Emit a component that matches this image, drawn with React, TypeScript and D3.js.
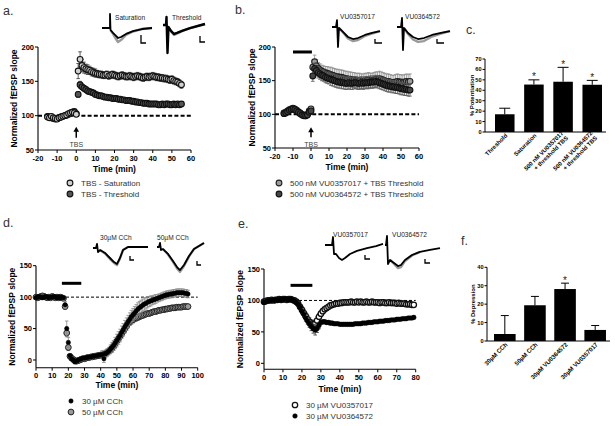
import React from "react";
import * as d3 from "d3";

const FONT = "'Liberation Sans', Arial, Helvetica, sans-serif";

// ================= Panel a =================
const aTimes = d3.range(-15, 56);
const aSatValues = [
  98, 97, 99, 97, 96, 95, 97, 98, 99, 100, 101, 103, 104, 105, 104, 102,
  165, 182, 173, 170, 168, 167, 166, 164, 163, 162,
  161, 160, 160, 159, 159, 160, 158, 159, 160, 159,
  158, 157, 158, 159, 158, 157, 157, 158, 157, 156,
  157, 158, 157, 156, 155, 156, 157, 156, 157, 158,
  157, 156, 156, 155, 155, 154, 154, 153, 152, 153,
  151, 150, 149, 147, 145,
];
const aSatErr = [
  3, 3, 3, 3, 3, 3, 3, 3, 3, 3, 3, 3, 3, 3, 3, 3,
  11, 11, 9, 8, 7, 7, 6, 6, 6, 6,
  5, 5, 5, 5, 5, 5, 5, 5, 5, 5,
  5, 5, 5, 5, 5, 5, 5, 5, 5, 5,
  5, 5, 5, 5, 5, 5, 5, 5, 5, 5,
  5, 5, 5, 5, 5, 5, 5, 5, 5, 5,
  5, 5, 5, 5, 5,
];
const aThrValues = [
  99, 98, 97, 96, 95, 96, 97, 98, 99, 100, 101, 102, 104, 105, 106, 103,
  131, 145, 142, 140, 138, 136, 135, 134, 133, 131,
  130, 129, 129, 128, 127, 127, 126, 126, 125, 125,
  125, 124, 124, 123, 123, 122, 122, 122, 121, 121,
  120, 120, 119, 119, 118, 118, 118, 117, 117, 117,
  117, 117, 116, 116, 117, 116, 117, 117, 116, 116,
  117, 116, 117, 116, 117,
];
const aThrErr = [
  3, 3, 3, 3, 3, 3, 3, 3, 3, 3, 3, 3, 3, 3, 3, 3,
  4, 5, 4, 4, 4, 4, 4, 4, 3, 3,
  3, 3, 3, 3, 3, 3, 3, 3, 3, 3,
  3, 3, 3, 3, 3, 3, 3, 3, 3, 3,
  3, 3, 3, 3, 3, 3, 3, 3, 3, 3,
  3, 3, 3, 3, 3, 3, 3, 3, 3, 3,
  3, 3, 3, 3, 3,
];

// ================= Panel b =================
const bTimes = d3.range(-15, 56);
const bVU17Values = [
  102, 103, 105, 107, 108, 109, 108, 106, 104, 102, 100, 99, 98, 100, 105, 108,
  170, 178, 172, 168, 166, 164, 163, 162, 161, 160,
  159, 158, 157, 156, 156, 155, 155, 154, 153, 153,
  152, 152, 151, 151, 150, 150, 150, 149, 149, 150,
  150, 151, 150, 150, 151, 152, 152, 153, 152, 151,
  150, 149, 149, 148, 147, 147, 148, 149, 148, 148,
  147, 148, 149, 148, 149,
];
const bVU17Err = [
  3, 3, 3, 3, 3, 3, 3, 3, 3, 3, 3, 3, 3, 3, 3, 3,
  10, 10, 9, 9, 9, 9, 9, 9, 10, 10,
  11, 11, 11, 11, 11, 11, 11, 11, 11, 11,
  11, 11, 11, 11, 11, 11, 11, 11, 11, 11,
  11, 11, 11, 11, 11, 11, 11, 11, 11, 11,
  11, 11, 11, 11, 11, 11, 11, 11, 11, 11,
  11, 11, 11, 11, 11,
];
const bVU64Values = [
  101, 102, 104, 106, 107, 108, 107, 105, 103, 101, 99, 98, 98, 99, 103, 105,
  157, 168, 165, 162, 160, 158, 157, 155, 154, 153,
  152, 151, 150, 149, 148, 148, 147, 147, 146, 146,
  147, 146, 146, 147, 147, 146, 146, 147, 146, 147,
  147, 147, 148, 148, 148, 149, 148, 147, 146, 145,
  144, 143, 142, 142, 141, 141, 140, 140, 139, 138,
  138, 137, 137, 136, 136,
];
const bVU64Err = [
  3, 3, 3, 3, 3, 3, 3, 3, 3, 3, 3, 3, 3, 3, 3, 3,
  8, 8, 8, 8, 8, 8, 8, 8, 8, 8,
  9, 9, 9, 9, 9, 9, 9, 9, 9, 9,
  9, 9, 9, 9, 9, 9, 9, 9, 9, 9,
  9, 9, 9, 9, 9, 9, 9, 9, 9, 9,
  9, 9, 9, 9, 9, 9, 9, 9, 9, 9,
  9, 9, 9, 9, 9,
];

// ================= Panel c =================
const cCategories = [
  ["Threshold"],
  ["Saturation"],
  ["500 nM VU0357017", "+ threshold TBS"],
  ["500 nM VU0364572", "+ threshold TBS"],
];
const cValues = [17, 45.5, 48.2, 45.3];
const cErrors = [5.8, 4.5, 13.8, 4.2];
const cStars = ["", "*", "*", "*"];
const cTicks = [0, 10, 20, 30, 40, 50, 60, 70];

// ================= Panel d =================
const dTimes = d3.range(0, 95);
const d30Values = [
  99, 100, 101, 100, 99, 100, 101, 100, 99, 100,
  100, 101, 100, 99, 100, 99, 100, 99, 88, 50,
  28, 7, 2, 0, -3, -2, 0, 1, 2, 3,
  3, 4, 4, 5, 5, 6, 6, 7, 7, 8,
  8, 9, 2, 10, 12, 14, 17, 20, 23, 27,
  31, 35, 39, 44, 48, 53, 57, 61, 65, 69,
  72, 75, 78, 81, 83, 85, 87, 89, 90, 92,
  93, 94, 95, 96, 97, 98, 99, 100, 101, 102,
  103, 104, 104, 105, 105, 106, 106, 107, 107, 107,
  107, 107, 106, 106, 105,
];
const d30Err = [
  2, 2, 2, 2, 2, 2, 2, 2, 2, 2,
  2, 2, 2, 2, 2, 2, 2, 3, 5, 12,
  8, 3, 3, 3, 3, 3, 3, 3, 3, 3,
  3, 3, 3, 3, 3, 3, 3, 3, 3, 3,
  3, 6, 6, 6, 6, 6, 7, 8, 8, 9,
  10, 10, 10, 10, 10, 10, 10, 10, 10, 10,
  10, 10, 10, 10, 10, 10, 10, 10, 9, 9,
  8, 8, 7, 7, 7, 6, 6, 6, 6, 6,
  6, 6, 6, 6, 6, 6, 6, 6, 6, 6,
  6, 6, 6, 6, 6,
];
const d50Values = [
  100, 99, 100, 101, 102, 101, 100, 99, 100, 99,
  101, 100, 99, 100, 99, 100, 99, 98, 85, 43,
  20, 6, 3, 1, -1, -2, -1, 0, 1, 2,
  2, 3, 4, 4, 5, 5, 6, 6, 7, 7,
  8, 8, 9, 10, 12, 14, 16, 19, 22, 26,
  30, 34, 38, 42, 46, 50, 54, 58, 61, 63,
  64, 66, 67, 68, 69, 70, 71, 72, 73, 74,
  74, 75, 76, 77, 77, 78, 79, 79, 80, 80,
  81, 81, 82, 82, 83, 83, 83, 84, 84, 84,
  84, 85, 85, 85, 85,
];
const d50Err = [
  2, 2, 2, 2, 2, 2, 2, 2, 2, 2,
  2, 2, 2, 2, 2, 2, 2, 2, 4, 6,
  5, 3, 3, 3, 3, 3, 3, 3, 3, 3,
  3, 3, 3, 3, 3, 3, 3, 3, 3, 3,
  3, 3, 3, 3, 3, 4, 5, 6, 6, 6,
  6, 6, 6, 6, 6, 6, 6, 6, 6, 6,
  5, 5, 5, 5, 4, 4, 4, 4, 3, 3,
  3, 3, 3, 3, 3, 3, 3, 3, 3, 3,
  3, 3, 3, 3, 3, 3, 3, 3, 3, 3,
  3, 3, 3, 3, 3,
];

// ================= Panel e =================
const eTimes = d3.range(0, 80);
const e17Values = [
  98, 99, 100, 100, 101, 100, 101, 101, 102, 101,
  102, 102, 101, 102, 102, 101, 100, 98, 95, 90,
  85, 80, 75, 70, 66, 63, 62, 63, 68, 74,
  79, 83, 86, 88, 90, 92, 93, 94, 95, 95,
  96, 96, 97, 97, 97, 97, 98, 97, 97, 98,
  97, 98, 97, 97, 98, 97, 97, 98, 97, 97,
  97, 96, 97, 97, 96, 96, 97, 96, 96, 96,
  95, 96, 95, 95, 95, 94, 94, 94, 93, 93,
];
const e17Err = [
  2, 2, 2, 2, 2, 2, 2, 2, 2, 2,
  2, 2, 2, 2, 2, 2, 2, 2, 3, 4,
  5, 6, 6, 6, 6, 6, 6, 6, 6, 5,
  4, 4, 3, 3, 3, 3, 2, 2, 2, 2,
  2, 2, 2, 2, 2, 2, 2, 2, 2, 2,
  2, 2, 2, 2, 2, 2, 2, 2, 2, 2,
  2, 2, 2, 2, 2, 2, 2, 2, 2, 2,
  2, 2, 2, 2, 2, 2, 2, 2, 2, 2,
];
const e64Values = [
  97, 98, 99, 100, 100, 101, 100, 101, 101, 102,
  101, 102, 102, 101, 102, 101, 99, 97, 94, 89,
  83, 78, 72, 67, 62, 58, 55, 53, 55, 60,
  65, 66, 66, 65, 65, 64, 64, 63, 63, 63,
  62, 62, 62, 62, 62, 62, 62, 62, 63, 63,
  63, 63, 64, 64, 64, 65, 65, 65, 66, 66,
  66, 67, 67, 67, 68, 68, 68, 69, 69, 69,
  70, 70, 70, 71, 71, 71, 72, 72, 72, 73,
];
const e64Err = [
  2, 2, 2, 2, 2, 2, 2, 2, 2, 2,
  2, 2, 2, 2, 2, 2, 2, 2, 3, 3,
  4, 4, 5, 5, 5, 6, 7, 8, 6, 5,
  3, 3, 3, 3, 3, 3, 2, 2, 2, 2,
  2, 2, 2, 2, 2, 2, 2, 2, 2, 2,
  2, 2, 2, 2, 2, 2, 2, 2, 2, 2,
  2, 2, 2, 2, 2, 2, 2, 2, 2, 2,
  2, 2, 2, 2, 2, 2, 2, 2, 2, 2,
];

// ================= Panel f =================
const fCategories = [["30µM CCh"], ["50µM CCh"], ["30µM VU0364572"], ["30µM VU0357017"]];
const fValues = [3.8, 19.4, 28.2, 6.0];
const fErrors = [10.0, 4.8, 3.2, 2.4];
const fStars = ["", "", "*", ""];
const fTicks = [0, 10, 20, 30, 40];

// ================= Inset traces (ms, mV) =================
const aSatBlack = [[0, 0], [3.2, 0], [3.2, 0.97], [3.4, -0.14], [4.4, -0.34], [5.6, -0.55], [6.4, -0.69], [7.6, -0.62], [9.6, -0.41], [12.4, -0.21], [16, -0.07], [20, 0]];
const aSatGray = [[3.4, -0.14], [4.4, -0.41], [5.6, -0.76], [6.4, -0.97], [7.6, -0.83], [9.6, -0.48], [12.4, -0.24], [16, -0.07], [20, 0]];
const aThrBlack = [[0, 0], [1.2, 0], [1.4, 0.55], [1.8, -1.93], [2.2, -0.14], [3.2, -0.41], [4.4, -0.62], [5.6, -0.55], [7.6, -0.41], [10.8, -0.21], [16.8, 0.07]];
const aThrGray = [[2.2, -0.14], [3.2, -0.45], [4.4, -0.69], [5.6, -0.6], [7.6, -0.43], [10.8, -0.21], [16.8, 0.07]];
const b17Black = [[0, 0], [1.6, 0], [2, 0.48], [2.4, -1.38], [2.8, -0.07], [4.4, -0.34], [6.4, -0.69], [8.4, -0.83], [10.4, -0.76], [13.2, -0.55], [16, -0.41], [19.2, -0.28]];
const b17Gray = [[2.8, -0.07], [4.4, -0.38], [6.4, -0.79], [8.4, -0.97], [10.4, -0.9], [13.2, -0.62], [16, -0.45], [19.2, -0.28]];
const b64Black = [[0, 0], [1.6, 0], [2, 0.62], [2.4, -1.59], [2.8, -0.07], [4.4, -0.41], [6.4, -0.69], [8.4, -0.83], [10.8, -0.76], [14, -0.55], [17.6, -0.41], [21.2, -0.28]];
const b64Gray = [[2.8, -0.07], [4.4, -0.48], [6.4, -0.86], [8.4, -1.03], [10.8, -0.97], [14, -0.66], [17.6, -0.45], [21.2, -0.28]];
const d30Black = [[0, 0], [1.2, 0], [1.6, 0.28], [2, -0.28], [2.8, -0.14], [4.8, -0.34], [6.8, -0.69], [8.4, -0.97], [9.6, -1.1], [10.8, -0.69], [12, -0.14], [14, 0.07], [18, 0.07], [22, 0.07]];
const d30Gray = [[2.8, -0.14], [4.8, -0.38], [6.8, -0.76], [8.4, -1.03], [9.6, -1.17], [10.8, -0.72], [12, -0.14], [14, 0.07]];
const d50Black = [[0, 0], [0.8, 0], [1.2, 0.28], [1.6, -0.21], [2.4, -0.14], [4.4, -0.48], [6.4, -0.97], [8, -1.38], [9.2, -1.59], [10.8, -1.24], [12.8, -0.62], [14.8, -0.14], [16.8, 0.07], [18.8, 0.28]];
const d50Gray = [[2.4, -0.14], [4.4, -0.52], [6.4, -1.03], [8, -1.48], [9.2, -1.72], [10.8, -1.31], [12.8, -0.66], [14.8, -0.14], [16.8, 0.07], [18.8, 0.28]];
const e17Black = [[0, 0], [2.8, 0], [3.2, 0.55], [3.6, -0.62], [4.4, -0.62], [5.6, -0.9], [6.8, -1.03], [8, -0.9], [10, -0.62], [12.8, -0.41], [16.8, -0.21], [20.4, -0.07], [23.2, 0.07]];
const e64Black = [[0, 0], [0.4, 0], [0.8, 0.62], [1.2, -1.31], [2, -1.03], [3.6, -1.24], [5.2, -1.45], [6.4, -1.38], [8, -1.03], [10.8, -0.69], [14, -0.48], [18, -0.34], [22, -0.21]];
const e64Gray = [[2, -1.03], [3.6, -1.31], [5.2, -1.59], [6.4, -1.52], [8, -1.1], [10.8, -0.72], [14, -0.48]];

// ================= Components =================
type Series = {
  times: number[];
  values: number[];
  errors: number[];
  fill: string;
  stroke: string;
  sw: number;
  r: number;
  errColor: string;
};

type TCProps = {
  xRange: [number, number];
  xDomain: [number, number];
  xTicks: number[];
  yRange: [number, number];
  yDomain: [number, number];
  yTicks: number[];
  series: Series[];
  dash: { from: number; to: number; width: number; pattern: string };
  bar?: { from: number; to: number; y: number };
  arrow?: { from: number; to: number; labelY: number };
  xLabelY: number;
  yLabelX: number;
};

function TimeCourse(p: TCProps) {
  const x = d3.scaleLinear().domain(p.xDomain).range(p.xRange);
  const y = d3.scaleLinear().domain(p.yDomain).range(p.yRange);
  const yb = p.yRange[0];
  const yTopTick = y(p.yTicks[p.yTicks.length - 1]);
  const x0 = p.xRange[0];
  const x1 = p.xRange[1];
  const tickFont = 7.5;
  return (
    <g fontFamily={FONT}>
      <line x1={x0} x2={x0} y1={yTopTick} y2={yb} stroke="#000" strokeWidth={1.1} />
      <line x1={x0} x2={x1} y1={yb} y2={yb} stroke="#000" strokeWidth={1.1} />
      {p.yTicks.map((t) => (
        <g key={"y" + t}>
          <line x1={x0 - 3} x2={x0} y1={y(t)} y2={y(t)} stroke="#000" strokeWidth={1} />
          <text x={x0 - 4} y={y(t)} dy="0.35em" textAnchor="end" fontSize={tickFont} fontWeight="bold">
            {t}
          </text>
        </g>
      ))}
      {p.xTicks.map((t) => (
        <g key={"x" + t}>
          <line x1={x(t)} x2={x(t)} y1={yb} y2={yb + 3} stroke="#000" strokeWidth={1} />
          <text x={x(t)} y={yb + 10.5} textAnchor="middle" fontSize={tickFont} fontWeight="bold">
            {t}
          </text>
        </g>
      ))}
      <text x={(x0 + x1) / 2} y={p.xLabelY} textAnchor="middle" fontSize={8.5} fontWeight="bold">
        Time (min)
      </text>
      <text
        transform={`translate(${p.yLabelX},${(yTopTick + yb) / 2}) rotate(-90)`}
        dy="0.35em"
        textAnchor="middle"
        fontSize={8.5}
        fontWeight="bold"
      >
        Normalized fEPSP slope
      </text>
      <line
        x1={x(p.dash.from)}
        x2={x(p.dash.to)}
        y1={y(100)}
        y2={y(100)}
        stroke="#000"
        strokeWidth={p.dash.width}
        strokeDasharray={p.dash.pattern}
      />
      {p.bar && (
        <line x1={x(p.bar.from)} x2={x(p.bar.to)} y1={y(p.bar.y)} y2={y(p.bar.y)} stroke="#000" strokeWidth={3} />
      )}
      {p.arrow && (
        <g>
          <line x1={x(0)} x2={x(0)} y1={y(p.arrow.from)} y2={y(p.arrow.to) + 4} stroke="#000" strokeWidth={1.5} />
          <path
            d={`M${x(0)},${y(p.arrow.to)} L${x(0) - 2.8},${y(p.arrow.to) + 5} L${x(0) + 2.8},${y(p.arrow.to) + 5} Z`}
            fill="#000"
          />
          <text x={x(0)} y={p.arrow.labelY} textAnchor="middle" fontSize={7} fill="#444">
            TBS
          </text>
        </g>
      )}
      {p.series.map((s, si) => (
        <g key={si}>
          {s.times.map((t, i) =>
            s.values[i] === undefined ? null : (
              <g key={i} stroke={s.errColor} strokeWidth={0.8}>
                <line x1={x(t)} x2={x(t)} y1={y(s.values[i] - s.errors[i])} y2={y(s.values[i] + s.errors[i])} />
                <line x1={x(t) - 1.8} x2={x(t) + 1.8} y1={y(s.values[i] + s.errors[i])} y2={y(s.values[i] + s.errors[i])} />
                <line x1={x(t) - 1.8} x2={x(t) + 1.8} y1={y(s.values[i] - s.errors[i])} y2={y(s.values[i] - s.errors[i])} />
              </g>
            )
          )}
          {s.times.map((t, i) =>
            s.values[i] === undefined ? null : (
              <circle key={"c" + i} cx={x(t)} cy={y(s.values[i])} r={s.r} fill={s.fill} stroke={s.stroke} strokeWidth={s.sw} />
            )
          )}
        </g>
      ))}
    </g>
  );
}

type BarProps = {
  range: [number, number];
  axis: [number, number];
  yRange: [number, number];
  yDomain: [number, number];
  ticks: number[];
  categories: string[][];
  values: number[];
  errors: number[];
  stars: string[];
  paddingInner: number;
  paddingOuter: number;
  capHalf: number;
  yLabel: string;
  yLabelX: number;
  labelFont: number;
};

function BarPanel(p: BarProps) {
  const xb = d3
    .scaleBand<number>()
    .domain(p.values.map((_, i) => i))
    .range(p.range)
    .paddingInner(p.paddingInner)
    .paddingOuter(p.paddingOuter);
  const y = d3.scaleLinear().domain(p.yDomain).range(p.yRange);
  const yb = p.yRange[0];
  const yTop = y(p.ticks[p.ticks.length - 1]);
  return (
    <g fontFamily={FONT}>
      {p.values.map((v, i) => {
        const cx = (xb(i) as number) + xb.bandwidth() / 2;
        const top = y(v + p.errors[i]);
        return (
          <g key={i}>
            <rect x={xb(i)} y={y(v)} width={xb.bandwidth()} height={yb - y(v)} fill="#000" />
            <line x1={cx} x2={cx} y1={y(v)} y2={top} stroke="#000" strokeWidth={1} />
            <line x1={cx - p.capHalf} x2={cx + p.capHalf} y1={top} y2={top} stroke="#000" strokeWidth={1} />
            {p.stars[i] && (
              <text x={cx} y={top + 0.5} textAnchor="middle" fontSize={10} fill="#222">
                {p.stars[i]}
              </text>
            )}
            <text
              transform={`translate(${cx + 3},${yb + 4}) rotate(-45)`}
              textAnchor="end"
              fontSize={p.labelFont}
              fontWeight="bold"
            >
              {p.categories[i].map((line, li) => (
                <tspan key={li} x={0} y={(li - (p.categories[i].length - 1) / 2) * 6.6}>
                  {line}
                </tspan>
              ))}
            </text>
          </g>
        );
      })}
      <line x1={p.axis[0]} x2={p.axis[0]} y1={yTop} y2={yb} stroke="#000" strokeWidth={1} />
      <line x1={p.axis[0]} x2={p.axis[1]} y1={yb} y2={yb} stroke="#000" strokeWidth={1} />
      {p.ticks.map((t) => (
        <g key={t}>
          <line x1={p.axis[0] - 2.5} x2={p.axis[0]} y1={y(t)} y2={y(t)} stroke="#000" strokeWidth={1} />
          <text x={p.axis[0] - 3.5} y={y(t)} dy="0.35em" textAnchor="end" fontSize={5.6} fontWeight="bold">
            {t}
          </text>
        </g>
      ))}
      <text
        transform={`translate(${p.yLabelX},${(yTop + yb) / 2}) rotate(-90)`}
        dy="0.35em"
        textAnchor="middle"
        fontSize={6}
        fontWeight="bold"
      >
        {p.yLabel}
      </text>
    </g>
  );
}

type InsetProps = {
  ox: number;
  oy: number;
  black: number[][];
  gray?: number[][];
  label: string;
  lx: number;
  ly: number;
  sx: number;
  sy: number;
  sv: number;
  sh: number;
  artifactWidth?: number;
};

const traceX = d3.scaleLinear().domain([0, 1]).range([0, 2.5]);
const traceY = d3.scaleLinear().domain([0, 1]).range([0, -14.5]);

function Inset(p: InsetProps) {
  const line = d3
    .line<number[]>()
    .x((d) => p.ox + traceX(d[0]))
    .y((d) => p.oy + traceY(d[1]));
  return (
    <g fontFamily={FONT}>
      {p.gray && <path d={line(p.gray) || ""} fill="none" stroke="#9a9a9a" strokeWidth={2.4} strokeLinejoin="round" />}
      <path
        d={line(p.black) || ""}
        fill="none"
        stroke="#000"
        strokeWidth={p.artifactWidth ?? 1.8}
        strokeLinejoin="round"
      />
      <text x={p.lx} y={p.ly} fontSize={6.6} fill="#222">
        {p.label}
      </text>
      <path d={`M${p.sx},${p.sy} V${p.sy + p.sv} H${p.sx + p.sh}`} fill="none" stroke="#000" strokeWidth={1.3} />
    </g>
  );
}

type LegendItem = { label: string; fill: string; stroke: string; sw: number; r: number };

function Legend({ x, y, items, gap }: { x: number; y: number; items: LegendItem[]; gap: number }) {
  return (
    <g fontFamily={FONT}>
      {items.map((it, i) => (
        <g key={i}>
          <circle cx={x} cy={y + i * gap} r={it.r} fill={it.fill} stroke={it.stroke} strokeWidth={it.sw} />
          <text x={x + 11} y={y + i * gap} dy="0.35em" fontSize={8} fill="#333">
            {it.label}
          </text>
        </g>
      ))}
    </g>
  );
}

function PanelLetter({ x, y, t }: { x: number; y: number; t: string }) {
  return (
    <text x={x} y={y} fontFamily={FONT} fontSize={12.5} fill="#333">
      {t}
    </text>
  );
}

const satStyle = { fill: "#d0d0d0", stroke: "#111", sw: 1.1, r: 2.9 };
const thrStyle = { fill: "#555", stroke: "#111", sw: 1.1, r: 2.9 };
const vu17bStyle = { fill: "#9c9c9c", stroke: "#222", sw: 1.1, r: 2.9 };
const vu64bStyle = { fill: "#444", stroke: "#111", sw: 1.1, r: 2.9 };
const cch30Style = { fill: "#000", stroke: "#000", sw: 0.5, r: 2.2 };
const cch50Style = { fill: "#9a9a9a", stroke: "#222", sw: 1, r: 2.9 };
const vu17eStyle = { fill: "#fff", stroke: "#111", sw: 1.3, r: 2.7 };
const vu64eStyle = { fill: "#000", stroke: "#000", sw: 0.5, r: 2.3 };

export default function App() {
  return (
    <svg
      width={615}
      height={426}
      viewBox="0 0 615 426"
      style={{ position: "absolute", left: 0, top: 0, background: "#fff" }}
    >
      <rect width={615} height={426} fill="#fff" />
      {/* ---------- a ---------- */}
      <PanelLetter x={3} y={15} t="a." />
      <TimeCourse
        xRange={[38, 191]}
        xDomain={[-20, 60]}
        xTicks={d3.range(-20, 61, 10)}
        yRange={[150, 47]}
        yDomain={[50, 200]}
        yTicks={[50, 100, 150, 200]}
        dash={{ from: -20, to: 60, width: 2, pattern: "4,2.2" }}
        arrow={{ from: 68, to: 84, labelY: 147 }}
        xLabelY={172}
        yLabelX={14}
        series={[
          { times: aTimes, values: aThrValues, errors: aThrErr, errColor: "#333", ...thrStyle },
          { times: aTimes, values: aSatValues, errors: aSatErr, errColor: "#333", ...satStyle },
        ]}
      />
      <Inset ox={102} oy={28} black={aSatBlack} gray={aSatGray} label="Saturation" lx={115} ly={20} sx={141} sy={35} sv={8} sh={5} />
      <Inset ox={163} oy={25} black={aThrBlack} gray={aThrGray} label="Threshold" lx={172} ly={20} sx={200} sy={36} sv={6} sh={5} artifactWidth={2.4} />
      <Legend
        x={70}
        y={183}
        gap={11}
        items={[
          { label: "TBS - Saturation", ...satStyle },
          { label: "TBS - Threshold", ...thrStyle },
        ]}
      />

      {/* ---------- b ---------- */}
      <PanelLetter x={235} y={14} t="b." />
      <TimeCourse
        xRange={[275, 419]}
        xDomain={[-20, 60]}
        xTicks={d3.range(-20, 61, 10)}
        yRange={[148, 47]}
        yDomain={[50, 200]}
        yTicks={[50, 100, 150, 200]}
        dash={{ from: -20, to: 60, width: 2, pattern: "4,2.2" }}
        bar={{ from: -10, to: 0.5, y: 192.6 }}
        arrow={{ from: 66, to: 81, labelY: 147 }}
        xLabelY={170}
        yLabelX={252}
        series={[
          { times: bTimes, values: bVU17Values, errors: bVU17Err, errColor: "#8a8a8a", ...vu17bStyle },
          { times: bTimes, values: bVU64Values, errors: bVU64Err, errColor: "#555", ...vu64bStyle },
        ]}
      />
      <Inset ox={332} oy={27} black={b17Black} gray={b17Gray} label="VU0357017" lx={340} ly={19} sx={375} sy={39} sv={4} sh={7} />
      <Inset ox={397} oy={27} black={b64Black} gray={b64Gray} label="VU0364572" lx={405} ly={19} sx={437} sy={39} sv={4} sh={7} />
      <Legend
        x={279}
        y={183}
        gap={11}
        items={[
          { label: "500 nM VU0357017 + TBS Threshold", ...vu17bStyle },
          { label: "500 nM VU0364572 + TBS Threshold", ...vu64bStyle },
        ]}
      />

      {/* ---------- c ---------- */}
      <PanelLetter x={466} y={34} t="c." />
      <BarPanel
        range={[488, 609]}
        axis={[485, 606]}
        yRange={[132, 59]}
        yDomain={[0, 70]}
        ticks={cTicks}
        categories={cCategories}
        values={cValues}
        errors={cErrors}
        stars={cStars}
        paddingInner={0.33}
        paddingOuter={0.24}
        capHalf={5.5}
        yLabel="% Potentiation"
        yLabelX={472}
        labelFont={5.9}
      />

      {/* ---------- d ---------- */}
      <PanelLetter x={3} y={227} t="d." />
      <TimeCourse
        xRange={[36, 197.7]}
        xDomain={[0, 100]}
        xTicks={d3.range(0, 101, 10)}
        yRange={[367.7, 265.7]}
        yDomain={[-12.25, 150]}
        yTicks={[0, 50, 100, 150]}
        dash={{ from: 0, to: 100, width: 1, pattern: "3,2" }}
        bar={{ from: 16, to: 28, y: 122 }}
        xLabelY={388}
        yLabelX={12}
        series={[
          { times: dTimes, values: d50Values, errors: d50Err, errColor: "#555", ...cch50Style },
          { times: dTimes, values: d30Values, errors: d30Err, errColor: "#888", ...cch30Style },
        ]}
      />
      <Inset ox={93} oy={248} black={d30Black} gray={d30Gray} label="30µM CCh" lx={100} ly={240} sx={130} sy={256} sv={4} sh={4} />
      <Inset ox={157} oy={247} black={d50Black} gray={d50Gray} label="50µM CCh" lx={157} ly={240} sx={197} sy={261} sv={4} sh={4} />
      <Legend
        x={71}
        y={401}
        gap={11}
        items={[
          { label: "30 µM CCh", ...cch30Style },
          { label: "50 µM CCh", ...cch50Style },
        ]}
      />

      {/* ---------- e ---------- */}
      <PanelLetter x={238} y={228} t="e." />
      <TimeCourse
        xRange={[264, 415.7]}
        xDomain={[0, 80]}
        xTicks={d3.range(0, 81, 10)}
        yRange={[369.3, 269]}
        yDomain={[-9.5, 150]}
        yTicks={[0, 50, 100, 150]}
        dash={{ from: 0, to: 80, width: 1, pattern: "3,2" }}
        bar={{ from: 14, to: 25.5, y: 124 }}
        xLabelY={392}
        yLabelX={240}
        series={[
          { times: eTimes, values: e17Values, errors: e17Err, errColor: "#333", ...vu17eStyle },
          { times: eTimes, values: e64Values, errors: e64Err, errColor: "#333", ...vu64eStyle },
        ]}
      />
      <Inset ox={325} oy={245} black={e17Black} label="VU0357017" lx={333} ly={237} sx={365} sy={255} sv={4} sh={5} />
      <Inset ox={385} oy={245} black={e64Black} gray={e64Gray} label="VU0364572" lx={392} ly={237} sx={425} sy={259} sv={4} sh={5} />
      <Legend
        x={295}
        y={405}
        gap={11}
        items={[
          { label: "30 µM VU0357017", ...vu17eStyle },
          { label: "30 µM VU0364572", ...vu64eStyle },
        ]}
      />

      {/* ---------- f ---------- */}
      <PanelLetter x={461} y={245} t="f." />
      <BarPanel
        range={[489, 611]}
        axis={[487, 610]}
        yRange={[341, 267.3]}
        yDomain={[0, 40]}
        ticks={fTicks}
        categories={fCategories}
        values={fValues}
        errors={fErrors}
        stars={fStars}
        paddingInner={0.283}
        paddingOuter={0.167}
        capHalf={4}
        yLabel="% Depression"
        yLabelX={473}
        labelFont={6.1}
      />
    </svg>
  );
}
